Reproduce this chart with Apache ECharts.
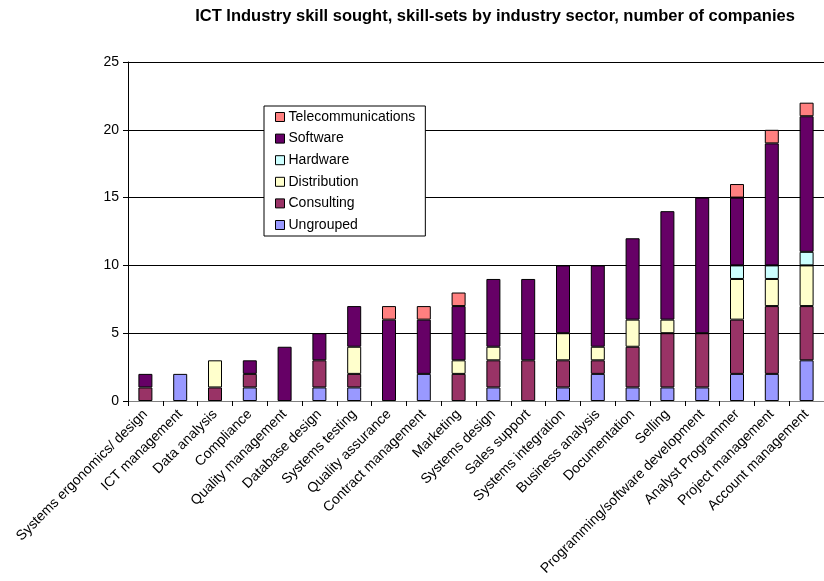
<!DOCTYPE html>
<html>
<head>
<meta charset="utf-8">
<script src="https://cdn.jsdelivr.net/npm/echarts@6/dist/echarts.min.js"></script>
<style>
  html, body { margin: 0; padding: 0; background: #fff; }
  #chart { width: 824px; height: 581px; }
</style>
</head>
<body>
<div id="chart"></div>
<script>
// Skill categories, ordered by total number of companies
const categories = [
  'Systems ergonomics/ design', 'ICT management', 'Data analysis', 'Compliance',
  'Quality management', 'Database design', 'Systems testing', 'Quality assurance',
  'Contract management', 'Marketing', 'Systems design', 'Sales support',
  'Systems integration', 'Business analysis', 'Documentation', 'Selling',
  'Programming/software development', 'Analyst Programmer', 'Project management',
  'Account management'
];

// Companies per industry sector for each skill
const ungrouped       = [0, 2, 0, 1, 0, 1, 1, 0, 2, 0, 1, 0, 1, 2, 1, 1, 1, 2, 2, 3];
const consulting      = [1, 0, 1, 1, 0, 2, 1, 0, 0, 2, 2, 3, 2, 1, 3, 4, 4, 4, 5, 4];
const distribution    = [0, 0, 2, 0, 0, 0, 2, 0, 0, 1, 1, 0, 2, 1, 2, 1, 0, 3, 2, 3];
const hardware        = [0, 0, 0, 0, 0, 0, 0, 0, 0, 0, 0, 0, 0, 0, 0, 0, 0, 1, 1, 1];
const software        = [1, 0, 0, 1, 4, 2, 3, 6, 4, 4, 5, 6, 5, 6, 6, 8, 10, 5, 9, 10];
const telecommunications = [0, 0, 0, 0, 0, 0, 0, 1, 1, 1, 0, 0, 0, 0, 0, 0, 0, 1, 1, 1];

const yTicks = [0, 5, 10, 15, 20, 25];

const sectors = [
  { name: 'Ungrouped', data: ungrouped, color: '#9999FF' },
  { name: 'Consulting', data: consulting, color: '#993366' },
  { name: 'Distribution', data: distribution, color: '#FFFFCC' },
  { name: 'Hardware', data: hardware, color: '#CCFFFF' },
  { name: 'Software', data: software, color: '#660066' },
  { name: 'Telecommunications', data: telecommunications, color: '#FF8080' }
];

const FONT = '"Liberation Sans", Arial, sans-serif';

const chart = echarts.init(document.getElementById('chart'), null, { renderer: 'canvas' });

chart.setOption({
  animation: false,
  backgroundColor: '#fff',
  title: {
    text: 'ICT Industry skill sought, skill-sets by industry sector, number of companies',
    left: 490,
    textAlign: 'center',
    top: 3,
    textStyle: { fontFamily: FONT, fontSize: 16.5, fontWeight: 'bold', color: '#000' }
  },
  legend: {
    orient: 'vertical',
    left: 264,
    top: 106,
    padding: [4, 10, 4, 11],
    itemWidth: 9,
    itemHeight: 9,
    itemGap: 7.6,
    borderColor: '#000',
    borderWidth: 1,
    backgroundColor: '#fff',
    icon: 'rect',
    data: sectors.slice().reverse().map(s => ({
      name: s.name,
      itemStyle: { color: s.color, borderColor: '#000', borderWidth: 1 }
    })),
    textStyle: { fontFamily: FONT, fontSize: 14, lineHeight: 14, color: '#000', padding: [0, 0, 0, -1] }
  },
  grid: { left: 128, top: 62, width: 705, height: 339, containLabel: false },
  xAxis: {
    type: 'category',
    data: categories,
    boundaryGap: true,
    axisLine: { lineStyle: { color: '#808080', width: 1 } },
    axisTick: { show: true, length: 5, lineStyle: { color: '#000' } },
    axisLabel: {
      interval: 0,
      rotate: 45,
      margin: 11,
      fontFamily: FONT,
      fontSize: 14,
      color: '#000'
    }
  },
  yAxis: {
    type: 'value',
    min: yTicks[0],
    max: yTicks[yTicks.length - 1],
    interval: 5,
    axisLine: { show: true, lineStyle: { color: '#000', width: 1 } },
    axisTick: { show: true, length: 5, lineStyle: { color: '#000' } },
    axisLabel: { fontFamily: FONT, fontSize: 14, color: '#000', margin: 9 },
    splitLine: { show: true, lineStyle: { color: '#000', width: 1 } }
  },
  series: sectors.map(s => ({
    name: s.name,
    type: 'bar',
    stack: 'total',
    barWidth: 14,
    data: s.data.map(v => (v === 0 ? null : v)),
    itemStyle: { color: s.color, borderColor: '#000', borderWidth: 1 }
  }))
});
</script>
</body>
</html>
